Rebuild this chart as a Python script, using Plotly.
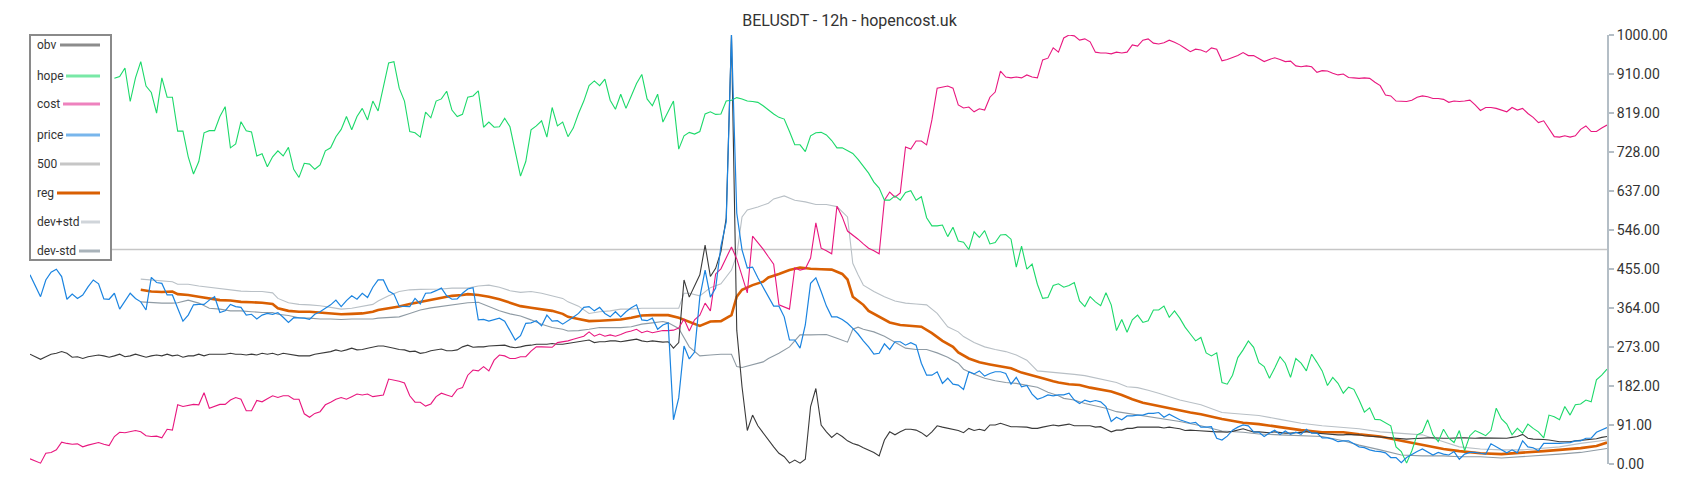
import plotly.graph_objects as go

# candle numbers on the (hidden) x axis
n_candles = 300
hope_start = 16          # hope only begins after the first candles
level_500 = 500

obv = [
    256, 250, 244, 250, 256, 258, 262, 258, 249, 250, 246, 250, 252, 254, 252, 249, 252, 256, 250, 252,
    256, 252, 249, 252, 254, 252, 256, 252, 254, 249, 252, 252, 256, 252, 256, 256, 256, 256, 258, 256,
    256, 254, 256, 254, 258, 256, 258, 254, 258, 256, 254, 252, 252, 252, 256, 258, 260, 262, 266, 263,
    266, 270, 266, 267, 270, 272, 275, 275, 273, 270, 267, 266, 262, 263, 258, 260, 264, 266,
    268, 264, 264, 266, 273, 277, 272, 273, 273, 275, 276, 277, 277, 273, 271, 273, 276, 277, 279, 279,
    279, 281, 279, 279, 281, 284, 285, 287, 289, 283, 285, 285, 287, 287, 285, 287, 289, 291, 287, 285,
    287, 285, 284, 285,
    270, 283, 429, 389, 415, 441, 510, 437, 456, 495, 573, 1000, 312, 180, 78, 114, 89, 72, 56, 40,
    25, 17, 2, 9, 2, 11, 134, 176, 91, 75, 62, 72, 64, 54, 48, 44, 38, 33, 27, 19,
    56, 75, 68, 75, 81, 81, 79, 73, 64, 75, 89, 86, 83, 81, 78, 73, 83, 78, 81, 78,
    91, 91, 95, 91, 87, 87, 87, 86, 83, 83, 86, 89, 91, 89, 91, 93, 89, 89, 89, 89,
    86, 87, 81, 75, 79, 79, 83, 83, 86, 86, 86, 86, 86,
    84, 86, 84, 82, 78, 79, 78, 77, 77, 76, 75, 75, 74, 76, 79, 82, 78, 75, 75, 74,
    73, 75, 73, 72, 72, 73, 74, 75, 73, 72, 70, 69, 68, 68, 68, 69, 68, 68, 66, 65,
    64, 63, 62, 61, 60, 59, 58, 59, 60, 61, 61, 61, 60, 60, 60, 61, 61, 61, 60, 60,
    61, 61, 61, 60, 60, 60, 62, 64, 69, 60, 58, 58, 57, 56, 54, 52, 52, 52, 54, 55,
    57, 58, 59, 62, 64,
]

hope = [
    899, 903, 923, 845, 900, 938, 881, 866, 818, 900, 855, 855, 776, 776, 716, 676, 705, 772, 777, 777,
    810, 833, 737, 746, 798, 777, 774, 718, 723, 693, 716, 730, 718, 738, 687, 668, 701, 699, 687, 697,
    730, 737, 763, 780, 810, 779, 810, 829, 802, 846, 823, 876,
    935, 938, 876, 846, 775, 772, 762, 820, 807, 846, 851, 869, 825, 810, 815, 855, 858, 870, 785, 797,
    785, 786, 806, 786, 732, 671, 705, 779, 788, 800, 762, 831, 788, 797, 763, 783, 817, 846, 882, 893,
    882, 897, 848, 827, 862, 829, 858, 887, 908, 851, 835, 862, 797, 823, 846, 734, 765, 773, 769, 775,
    816, 821, 815, 816, 846, 848, 854, 851, 846, 845, 843, 835, 825, 816, 808,
    804, 775, 744, 744, 728, 765, 772, 773, 767, 754, 737, 737, 730, 724, 710, 695, 678, 657, 643, 615,
    615, 625, 615, 633, 637, 615, 623, 574, 555, 555, 557, 530, 552, 520, 517, 500, 541, 528, 544, 513,
    516, 534, 535, 524, 459, 508, 454, 466, 419, 386, 388, 416, 420, 412, 416, 423, 380, 367, 390, 378,
    369, 399, 371, 311, 337, 307, 336, 347, 330, 334, 359, 359, 368,
    342, 357, 340, 319, 303, 287, 295, 259, 252, 259, 190, 186, 207, 248, 266, 287, 272, 236, 227, 200,
    224, 250, 235, 202, 246, 235, 217, 256, 237, 217, 183, 202, 188, 165, 179, 174, 149, 121, 131, 104,
    103, 96, 89, 40, 29, 2, 31, 68, 74, 103, 68, 52, 81, 60, 50, 78, 31, 66, 78, 72,
    66, 78, 130, 105, 93, 68, 83, 72, 93, 83, 75, 61, 114, 110, 103, 134, 114, 138, 140, 149,
    145, 196, 207, 221,
]

cost = [
    12, 7, 2, 25, 27, 33, 51, 48, 46, 47, 40, 44, 47, 50, 46, 43, 64, 74, 73, 75,
    78, 75, 66, 64, 65, 61, 81, 79, 138, 134, 136, 139, 138, 166, 130, 134, 139, 139, 149, 155,
    151, 124, 124, 148, 145, 152, 159, 155, 159, 159, 151, 151, 117, 109, 118, 122, 138, 144, 151, 155,
    151, 157, 163, 161, 163, 157, 159, 161, 198, 196, 193, 189, 159, 144, 144, 135, 140, 157,
    165, 161, 157, 174, 178, 207, 219, 217, 227, 217, 242, 254, 252, 246, 246, 250, 250, 263, 273, 273,
    273, 272, 283, 285, 287, 291, 295, 298, 308, 298, 303, 298, 301, 298, 302, 307, 310, 314, 306, 310,
    306, 308, 311, 311, 312,
    317, 338, 310, 336, 347, 375, 357, 443, 455, 480, 506, 478, 438, 399, 531, 517, 501, 483, 466, 371,
    366, 361, 457, 452, 455, 480, 562, 503, 497, 490, 601, 576, 543, 534, 524, 513, 503, 497, 490, 615,
    634, 622, 632, 739, 734, 753, 753, 744, 802, 876, 879, 881, 876, 837, 830, 832, 821, 828, 825, 855,
    867, 916, 902, 900, 902, 900, 907, 902, 900, 942, 946, 970, 960, 993, 1000, 998, 988, 991, 984, 960,
    958, 958, 956, 960, 958, 960, 977, 974, 988, 991, 981, 979,
    982, 988, 983, 977, 969, 961, 967, 965, 960, 970, 967, 940, 943, 947, 952, 959, 952, 952, 944, 938,
    943, 947, 943, 938, 939, 928, 926, 928, 926, 913, 917, 916, 911, 907, 909, 901, 900, 899, 900, 899,
    890, 882, 860, 858, 846, 845, 845, 848, 855, 858, 856, 852, 852, 850, 843, 846, 845, 846, 848, 837,
    824, 831, 831, 829, 825, 821, 831, 825, 829, 817, 808, 796, 800, 783, 763, 762, 765, 762, 765, 780,
    788, 775, 775, 783, 790,
]

price = [
    441, 417, 390, 429, 447, 454, 437, 384, 396, 386, 394, 413, 429, 420, 385, 384, 398, 361, 381, 398,
    386, 378, 359, 435, 423, 421, 394, 394, 363, 333, 347, 371, 372, 372, 382, 390, 353, 357, 372, 367,
    365, 347, 349, 338, 347, 351, 349, 353, 342, 330, 341, 341, 340, 337, 349, 355, 363, 371, 382, 367,
    381, 392, 384, 398, 388, 412, 429, 429, 403, 396, 368, 368, 367, 386, 373, 398, 399, 404,
    410, 392, 384, 385, 398, 408, 411, 336, 337, 333, 336, 340, 333, 310, 289, 299, 328, 329, 334, 322,
    347, 333, 334, 326, 333, 342, 351, 365, 367, 357, 365, 351, 343, 355, 343, 355, 364, 371, 336, 334,
    340, 314, 324, 329,
    103, 154, 275, 245, 261, 389, 452, 389, 410, 508, 564, 1000, 585, 499, 457, 459, 434, 413, 390, 368,
    368, 343, 289, 289, 270, 324, 421, 434, 402, 368, 343, 343, 337, 328, 316, 303, 287, 273, 256, 258,
    280, 267, 285, 285, 277, 283, 277, 235, 207, 207, 215, 188, 200, 186, 184, 174, 215, 210, 217, 205,
    211, 215, 215, 211, 186, 202, 180, 183, 163, 151, 155, 161, 159, 161, 161, 165, 149, 141, 149, 145,
    148, 145, 134, 99, 109, 103, 112, 112, 114, 114, 118, 118, 120,
    109, 116, 109, 103, 99, 95, 97, 86, 86, 87, 60, 56, 65, 79, 86, 91, 89, 75, 74, 64,
    72, 79, 69, 77, 69, 74, 69, 81, 72, 72, 61, 61, 58, 52, 54, 54, 47, 40, 38, 33,
    30, 29, 26, 15, 15, 3, 15, 23, 29, 35, 27, 21, 27, 23, 21, 29, 11, 23, 27, 27,
    25, 23, 47, 40, 33, 26, 33, 26, 54, 40, 38, 31, 48, 48, 47, 48, 49, 50, 54, 54,
    60, 60, 74, 79, 85,
]

reg_idx = [
    21, 23, 25, 27, 28, 30, 32, 34, 36, 38, 40, 42, 44, 46, 47, 49, 51, 53, 55, 57,
    59, 61, 63, 65, 66, 68, 70, 72, 74, 76, 78, 80, 82, 83, 85, 87, 89, 91, 93, 95,
    97, 99, 101, 102, 104, 106, 108, 110, 112, 114, 116, 118, 120, 121, 123, 125, 127, 129, 131, 133,
    134, 135, 137, 139, 140, 142, 144, 146, 148, 150, 152, 154, 155, 156, 158, 159, 161, 163, 165, 167,
    169, 171, 173, 175, 176, 178, 180, 182, 184, 186, 188, 190, 192, 194, 195, 197, 199, 201, 203, 205,
    207, 209, 211, 213, 214, 216, 218, 220, 222, 226, 230, 233, 237, 241, 245, 249, 252, 256, 260, 264,
    268, 271, 275, 279, 283, 287, 290, 294, 297, 299,
]
reg = [
    406, 402, 401, 402, 396, 394, 390, 386, 382, 381, 378, 377, 376, 373, 363, 357, 355, 355, 353, 351,
    349, 350, 351, 355, 359, 363, 367, 373, 378, 383, 387, 392, 394, 396, 394, 390, 384, 376, 368, 364,
    361, 357, 350, 343, 338, 333, 334, 336, 337, 341, 346, 347, 347, 347, 341, 332, 322, 332, 333, 347,
    390, 406, 417, 425, 435, 443, 452, 458, 455, 454, 453, 443, 430, 390, 371, 357, 343, 330, 324, 322,
    320, 305, 287, 273, 260, 246, 237, 232, 228, 223, 213, 207, 200, 193, 190, 186, 184, 178, 174, 169,
    161, 151, 143, 138, 134, 130, 124, 120, 116, 105, 96, 93, 86, 79, 74, 74, 69, 64, 54, 44,
    35, 30, 25, 23, 26, 30, 33, 37, 42, 50,
]

dev_up_idx = [
    21, 23, 25, 27, 28, 30, 32, 34, 36, 38, 40, 42, 44, 46, 47, 49, 51, 53, 55, 57,
    59, 61, 63, 65, 66, 68, 70, 72, 74, 76, 78, 80, 82, 83, 85, 87, 89, 91, 93, 95,
    97, 99, 101, 102, 104, 106, 108, 110, 112, 114, 116, 118, 120, 121, 123, 124, 125, 127, 129, 131,
    133, 134, 135, 136, 138, 140, 141, 143, 145, 147, 149, 151, 153, 155, 156, 157, 158, 160, 162, 164,
    166, 168, 170, 172, 174, 176, 177, 179, 181, 183, 185, 187, 189, 191, 193, 195, 196, 198, 200, 202,
    204, 206, 208, 210, 212, 214, 218, 222, 226, 230, 233, 237, 241, 245, 249, 252, 256, 260, 264, 268,
    271, 275, 279, 283, 287, 290, 294, 299,
]
dev_up = [
    431, 429, 427, 425, 419, 419, 415, 412, 408, 406, 403, 402, 402, 399, 386, 376, 372, 371, 369, 365,
    361, 363, 368, 372, 380, 392, 402, 406, 407, 407, 408, 410, 410, 410, 415, 417, 412, 404, 400, 402,
    398, 392, 386, 378, 368, 351, 355, 357, 361, 361, 363, 363, 363, 363, 363, 398, 398, 392, 411, 420,
    452, 487, 576, 592, 599, 608, 618, 625, 615, 611, 605, 605, 600, 576, 468, 441, 417, 402, 390, 380,
    375, 373, 371, 351, 320, 308, 297, 283, 273, 267, 262, 254, 242, 217, 215, 213, 211, 209, 206, 201,
    196, 190, 180, 178, 172, 165, 149, 138, 120, 117, 113, 104, 95, 89, 86, 82, 75, 72, 68, 52,
    40, 35, 33, 33, 37, 40, 48, 56,
]

dev_dn_idx = [
    21, 23, 25, 27, 28, 30, 32, 34, 36, 38, 40, 42, 44, 46, 47, 49, 51, 53, 55, 57,
    59, 61, 63, 65, 66, 68, 70, 72, 74, 76, 78, 80, 82, 83, 85, 87, 89, 91, 93, 95,
    97, 99, 101, 102, 104, 106, 108, 110, 112, 114, 116, 118, 120, 121, 123, 125, 127, 129, 131, 133,
    134, 135, 137, 139, 140, 142, 144, 146, 148, 151, 153, 155, 156, 157, 158, 160, 162, 164, 166, 168,
    170, 172, 174, 176, 177, 179, 181, 183, 185, 187, 189, 191, 193, 195, 196, 198, 200, 202, 204, 206,
    208, 210, 212, 214, 218, 222, 226, 230, 233, 237, 241, 245, 249, 252, 256, 260, 264, 268, 271, 275,
    279, 283, 287, 290, 294, 299,
]
dev_dn = [
    378, 376, 375, 375, 376, 382, 375, 363, 361, 357, 357, 355, 353, 353, 349, 346, 341, 340, 338, 338,
    337, 338, 338, 338, 340, 341, 343, 351, 359, 364, 367, 371, 374, 376, 377, 367, 357, 350, 345, 336,
    326, 318, 314, 310, 311, 314, 318, 318, 318, 320, 326, 329, 332, 329, 316, 273, 252, 254, 256, 256,
    227, 225, 231, 238, 246, 258, 273, 301, 301, 302, 293, 284, 314, 319, 314, 308, 298, 283, 270, 267,
    267, 259, 249, 235, 221, 209, 200, 194, 190, 188, 184, 179, 167, 159, 153, 149, 141, 135, 130, 122,
    118, 114, 110, 106, 99, 89, 77, 74, 70, 68, 66, 64, 54, 44, 33, 21, 19, 19, 17, 17,
    14, 17, 21, 23, 27, 36,
]

y_ticks = [0, 91, 182, 273, 364, 455, 546, 637, 728, 819, 910, 1000]

# the page adds an 8px body margin, so the figure's margins are trimmed by that much;
# the plot area still lands at x 30..1607, y 35..464 on the page
PAGE_OFFSET = 8
PLOT_L, PLOT_T, PLOT_W, PLOT_H = 30, 35, 1577, 429


def px_x(px):
    return (px - PLOT_L) / PLOT_W


def px_y(py):
    return (PLOT_T + PLOT_H - py) / PLOT_H


candles = list(range(n_candles))

fig = go.Figure()
fig.add_trace(go.Scatter(x=[0, n_candles - 1], y=[level_500, level_500], mode="lines",
                         line=dict(color="#c6c6c6", width=1.6), name="500"))
fig.add_trace(go.Scatter(x=dev_up_idx, y=dev_up, mode="lines",
                         line=dict(color="#b9c0c6", width=1.1), name="dev+std"))
fig.add_trace(go.Scatter(x=dev_dn_idx, y=dev_dn, mode="lines",
                         line=dict(color="#8f9ba4", width=1.1), name="dev-std"))
fig.add_trace(go.Scatter(x=reg_idx, y=reg, mode="lines",
                         line=dict(color="#d95f02", width=2.6), name="reg"))
fig.add_trace(go.Scatter(x=candles, y=obv, mode="lines",
                         line=dict(color="#3a3a3a", width=1.1), name="obv"))
fig.add_trace(go.Scatter(x=candles, y=cost, mode="lines",
                         line=dict(color="#e8177f", width=1.1), name="cost"))
fig.add_trace(go.Scatter(x=list(range(hope_start, n_candles)), y=hope, mode="lines",
                         line=dict(color="#1cd96a", width=1.1), name="hope"))
fig.add_trace(go.Scatter(x=candles, y=price, mode="lines",
                         line=dict(color="#1b84e0", width=1.2), name="price"))

# legend drawn by hand: name on the left, line sample on the right
legend_items = [
    ("obv", "#8c8c8c", 45, 60),
    ("hope", "#78e8a6", 76, 66),
    ("cost", "#ee82be", 104, 63),
    ("price", "#78b6ec", 135, 66),
    ("500", "#c6c6c6", 164, 60),
    ("reg", "#d95f02", 193, 57),
    ("dev+std", "#d0d5da", 222, 81),
    ("dev-std", "#a9b3ba", 251, 79),
]
shapes = [dict(type="rect", xref="paper", yref="paper", layer="above",
               x0=px_x(30), x1=px_x(111), y0=px_y(260), y1=px_y(35),
               fillcolor="white", line=dict(color="#8a8a8a", width=2))]
annotations = []
for name, color, ty, lx in legend_items:
    shapes.append(dict(type="line", xref="paper", yref="paper", layer="above",
                       x0=px_x(lx), x1=px_x(100), y0=px_y(ty), y1=px_y(ty),
                       line=dict(color=color, width=3)))
    annotations.append(dict(text=name, xref="paper", yref="paper", x=px_x(35), y=px_y(ty),
                            xanchor="left", yanchor="middle", showarrow=False,
                            font=dict(family="Roboto", size=12, color="#333333")))

fig.update_layout(
    width=1700, height=500,
    margin=dict(l=PLOT_L - PAGE_OFFSET, r=1700 - (PLOT_L + PLOT_W) + PAGE_OFFSET,
                t=PLOT_T - PAGE_OFFSET, b=500 - (PLOT_T + PLOT_H) + PAGE_OFFSET),
    paper_bgcolor="white", plot_bgcolor="white",
    showlegend=False,
    font=dict(family="Roboto", color="#333333"),
    title=dict(text="BELUSDT - 12h - hopencost.uk",
               x=(849.5 - PAGE_OFFSET) / 1700, xref="container", xanchor="center",
               y=1 - (20.5 - PAGE_OFFSET) / 500, yref="container", yanchor="middle",
               font=dict(family="Roboto", size=16, color="#333333")),
    xaxis=dict(visible=False, range=[0, n_candles - 1]),
    yaxis=dict(
        side="right", range=[0, 1000],
        tickvals=y_ticks, ticktext=[f"{v:.2f}" for v in y_ticks],
        showgrid=False, zeroline=False,
        showline=True, linecolor="#b4bec6", linewidth=2,
        ticks="outside", ticklen=5, tickwidth=1.5, tickcolor="#b4bec6",
        tickfont=dict(family="Roboto", size=14, color="#333333"),
    ),
    shapes=shapes,
    annotations=annotations,
)

fig.write_html("out.html")
